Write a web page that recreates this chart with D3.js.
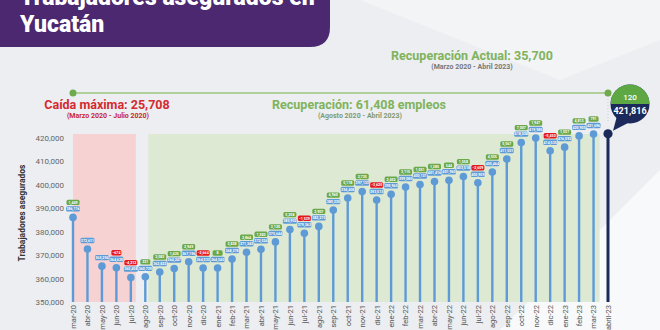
<!DOCTYPE html>
<html>
<head>
<meta charset="utf-8">
<script src="https://cdn.jsdelivr.net/npm/d3@7"></script>
<style>
  body { margin: 0; background: #eceef1; }
  svg { display: block; font-family: Roboto, 'Open Sans', sans-serif; }
</style>
</head>
<body>
<div id="chart"></div>
<script>
// Trabajadores asegurados en Yucatán, mar-20 .. abril-23
const months = ['mar-20', 'abr-20', 'may-20', 'jun-20', 'jul-20', 'ago-20', 'sep-20', 'oct-20',
  'nov-20', 'dic-20', 'ene-21', 'feb-21', 'mar-21', 'abr-21', 'may-21', 'jun-21', 'jul-21',
  'ago-21', 'sep-21', 'oct-21', 'nov-21', 'dic-21', 'ene-22', 'feb-22', 'mar-22', 'abr-22',
  'may-22', 'jun-22', 'jul-22', 'ago-22', 'sep-22', 'oct-22', 'nov-22', 'dic-22', 'ene-23',
  'feb-23', 'mar-23', 'abril-23']

const values = [386116, 372611, 365294, 364620, 360408, 360739, 362822, 364247, 367196,
  364532, 364540, 368378, 371242, 372524, 375644, 380902, 379363, 382270, 389230, 394408,
  397133, 393513, 395965, 399080, 400131, 401416, 401960, 403518, 400909, 405464, 411031,
  418038, 419985, 414535, 416092, 420905, 421696, 421816]

// monthly change shown above each point (null = no label in the original)
const changes = [1449, null, null, -674, -4212, 331, 2083, 1425, 2949, -2664, 8, 3838, 2864,
  1282, 3120, 5258, -1539, 2907, 6960, 5178, 2725, -3620, 2452, 3115, 1051, 1285, 544, 1558,
  -2609, 4555, 5567, 7007, 1947, -5450, 1557, 4813, 791, 120]

const yTicks = [350000, 360000, 370000, 380000, 390000, 400000, 410000, 420000]

const W = 660, H = 330
const fmt = d3.format(',')

const svg = d3.select('#chart').append('svg')
  .attr('width', W)
  .attr('height', H)

// background
svg.append('rect').attr('width', W).attr('height', H).attr('fill', '#eceef1')
svg.append('polygon')
  .attr('points', '500,330 660,170 660,330')
  .attr('fill', '#f8f9fa')
svg.append('polygon')
  .attr('points', '360,0 660,0 660,40 560,80')
  .attr('fill', '#f3f4f6')

const x = d3.scalePoint().domain(months).range([73, 608])
const y = d3.scaleLinear().domain([350000, 420000]).range([302, 138])

// header
svg.append('path')
  .attr('d', 'M0,0 H330 V27 Q330,47 310,47 H0 Z')
  .attr('fill', '#4b286f')
svg.append('text')
  .attr('x', 20).attr('y', 5)
  .attr('fill', '#fff')
  .style('font-size', '23px').style('font-weight', 900)
  .text('Trabajadores asegurados en')
svg.append('text')
  .attr('x', 20).attr('y', 32)
  .attr('fill', '#fff')
  .style('font-size', '23px').style('font-weight', 900)
  .text('Yucatán')

// shaded periods
svg.append('rect')
  .attr('x', x('mar-20')).attr('y', 134)
  .attr('width', x('jul-20') + 5 - x('mar-20')).attr('height', y(350000) - 134)
  .attr('fill', '#f6d2d2')
svg.append('rect')
  .attr('x', x('ago-20') + 3).attr('y', 134)
  .attr('width', x('mar-23') + 6 - x('ago-20') - 3).attr('height', y(350000) - 134)
  .attr('fill', '#dde9d2')

// recovery line on top
const last = months[months.length - 1]
svg.append('line')
  .attr('x1', x('mar-20')).attr('x2', x(last))
  .attr('y1', 93).attr('y2', 93)
  .attr('stroke', '#9cc47e').attr('stroke-width', 1.5)
svg.append('line')
  .attr('x1', x(last)).attr('x2', x(last))
  .attr('y1', 96).attr('y2', 122)
  .attr('stroke', '#c9ccd2').attr('stroke-width', 1)
  .attr('stroke-dasharray', '1,2')
svg.selectAll('.top-dot')
  .data(['mar-20', last])
  .enter().append('circle')
  .attr('cx', d => x(d)).attr('cy', 93).attr('r', 3.5)
  .attr('fill', '#6faa4c')

// annotations
const ann = [
  { t: 'Recuperación Actual: 35,700', x: 472, y: 60, size: 12.5, c: '#80b35c' },
  { t: '(Marzo 2020 - Abril 2023)', x: 472, y: 69, size: 7, c: '#777' },
  { t: 'Caída máxima: 25,708', x: 107, y: 109, size: 12.5, c: '#d42a2f' },
  { t: '(Marzo 2020 - Julio 2020)', x: 108, y: 118, size: 7, c: '#c8282d' },
  { t: 'Recuperación: 61,408 empleos', x: 359, y: 109, size: 12.5, c: '#80b35c' },
  { t: '(Agosto 2020 - Abril 2023)', x: 360, y: 118, size: 7, c: '#7f9a70' }
]
svg.selectAll('.ann')
  .data(ann)
  .enter().append('text')
  .attr('x', d => d.x).attr('y', d => d.y)
  .attr('text-anchor', 'middle')
  .attr('fill', d => d.c)
  .style('font-size', d => d.size + 'px')
  .style('font-weight', 700)
  .text(d => d.t)

// y axis
const yAxis = svg.append('g')
  .attr('transform', 'translate(66,0)')
  .call(d3.axisLeft(y).tickValues(yTicks).tickFormat(fmt).tickSize(0).tickPadding(2))
yAxis.select('.domain').remove()
yAxis.selectAll('text')
  .attr('fill', '#666')
  .style('font-size', '8px')
  .style('font-family', 'Roboto, sans-serif')

svg.append('text')
  .attr('transform', 'translate(25,213) rotate(-90)')
  .attr('text-anchor', 'middle')
  .attr('fill', '#333')
  .style('font-size', '8.5px').style('font-weight', 700)
  .text('Trabajadores asegurados')

// x axis
const xAxis = svg.append('g')
  .attr('transform', `translate(0,${y(350000)})`)
  .call(d3.axisBottom(x).tickSize(0).tickPadding(0))
xAxis.select('.domain').remove()
xAxis.selectAll('text')
  .attr('transform', 'rotate(-90)')
  .attr('text-anchor', 'end')
  .attr('dx', '-3px')
  .attr('dy', '0.32em')
  .attr('x', 0).attr('y', 0)
  .attr('fill', '#555')
  .style('font-size', '7.5px')
  .style('font-family', 'Roboto, sans-serif')

// lollipops
const data = months.map((m, i) => ({ m, v: values[i], c: changes[i], last: i === months.length - 1 }))

svg.selectAll('.stem')
  .data(data)
  .enter().append('line')
  .attr('x1', d => x(d.m)).attr('x2', d => x(d.m))
  .attr('y1', y(350000)).attr('y2', d => y(d.v))
  .attr('stroke', d => d.last ? '#1b2a5a' : '#5e9bd6')
  .attr('stroke-width', d => d.last ? 3 : 2.4)

svg.selectAll('.dot')
  .data(data)
  .enter().append('circle')
  .attr('cx', d => x(d.m)).attr('cy', d => y(d.v))
  .attr('r', d => d.last ? 4.6 : 3.8)
  .attr('fill', d => d.last ? '#1b2a5a' : '#5e9bd6')

const points = data.filter(d => !d.last)

// value labels
const vl = svg.selectAll('.vlab')
  .data(points)
  .enter().append('g')
  .attr('transform', d => `translate(${x(d.m)},${y(d.v) - 8.5})`)
vl.append('rect')
  .attr('x', -7).attr('y', -2.7).attr('width', 14).attr('height', 5.4).attr('rx', 1.5)
  .attr('fill', '#5e9bd6')
vl.append('text')
  .attr('text-anchor', 'middle').attr('dy', '1.3')
  .attr('fill', '#fff')
  .style('font-size', '3.6px').style('font-weight', 700)
  .text(d => fmt(d.v))

// change labels
const cl = svg.selectAll('.clab')
  .data(points.filter(d => d.c !== null))
  .enter().append('g')
  .attr('transform', d => `translate(${x(d.m)},${y(d.v) - 15})`)
cl.append('rect')
  .attr('x', d => Math.abs(d.c) < 1000 ? -5 : -6.5)
  .attr('y', -2.7)
  .attr('width', d => Math.abs(d.c) < 1000 ? 10 : 13)
  .attr('height', 5.4).attr('rx', 1.5)
  .attr('fill', d => d.c < 0 ? '#e3191f' : '#6aa84a')
cl.append('text')
  .attr('text-anchor', 'middle').attr('dy', '1.3')
  .attr('fill', '#fff')
  .style('font-size', '3.6px').style('font-weight', 700)
  .text(d => fmt(d.c))

// bubble for the latest month
const lastD = data[data.length - 1]
const bx = 630, by = 104, br = 19.5
const bubble = svg.append('g')
bubble.append('path')
  .attr('d', `M${bx - 13},${by + 12} L${x(lastD.m) + 5},${y(lastD.v) - 3} L${bx - 2},${by + 19} Z`)
  .attr('fill', '#1b2a5a')
bubble.append('clipPath').attr('id', 'top-half')
  .append('rect').attr('x', bx - br).attr('y', by - br).attr('width', br * 2).attr('height', br)
bubble.append('circle')
  .attr('cx', bx).attr('cy', by).attr('r', br)
  .attr('fill', '#1b2a5a')
bubble.append('circle')
  .attr('cx', bx).attr('cy', by).attr('r', br)
  .attr('fill', '#5ea843')
  .attr('clip-path', 'url(#top-half)')
bubble.append('text')
  .attr('x', bx).attr('y', by - 4)
  .attr('text-anchor', 'middle').attr('fill', '#fff')
  .style('font-size', '8px').style('font-weight', 500)
  .text(fmt(lastD.c))
bubble.append('text')
  .attr('x', bx).attr('y', by + 10)
  .attr('text-anchor', 'middle').attr('fill', '#fff')
  .style('font-size', '9px').style('font-weight', 700)
  .text(fmt(lastD.v))
</script>
</body>
</html>
